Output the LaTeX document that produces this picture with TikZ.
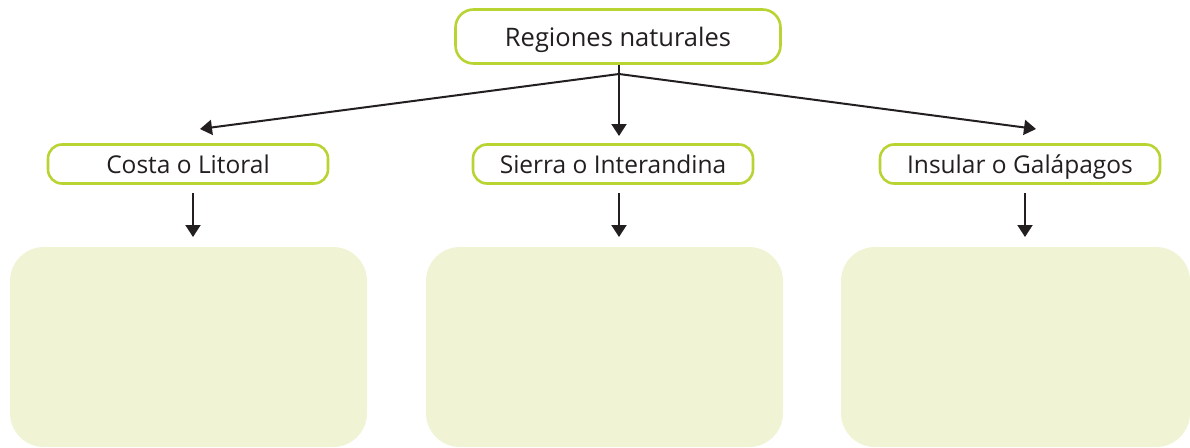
\documentclass[tikz,border=0pt]{standalone}
\usepackage{fontspec}
\setmainfont{Open Sans}
\usetikzlibrary{arrows.meta}
\definecolor{lime}{HTML}{B8D433}
\definecolor{pale}{HTML}{F0F4D4}
\definecolor{ink}{HTML}{231F20}
\begin{document}
\begin{tikzpicture}[x=1pt,y=-1pt,
  title/.style={draw=lime,line width=2.6pt,rounded corners=18pt,fill=white,text=ink,
    font=\fontsize{25.5}{30}\selectfont,inner sep=0pt,text height=19pt,text depth=0pt},
  region/.style={draw=lime,line width=2.6pt,rounded corners=14pt,fill=white,text=ink,
    font=\fontsize{24.5}{29}\selectfont,inner sep=0pt,minimum width=280pt,minimum height=39pt,
    text height=18pt,text depth=0pt},
  panel/.style={fill=pale,rounded corners=34pt},
  conn/.style={ink,line width=2pt},
  arr/.style={conn,-{Triangle[length=12pt,width=15pt]}}]
\useasboundingbox (0,0) rectangle (1190,447);
\node[title,minimum width=325pt,minimum height=54pt] (top) at (618,36.5) {Regiones naturales};
\node[region] (costa) at (188,164) {Costa o Litoral};
\node[region] (sierra) at (613,164) {Sierra o Interandina};
\node[region] (insular) at (1020,164) {Insular o Galápagos};
\fill[panel] (10,247) rectangle (367,447);
\fill[panel] (426,247) rectangle (783,447);
\fill[panel] (841,247) rectangle (1190,447);
\coordinate (br) at (619,74);
\coordinate (tl) at (200,129);
\coordinate (tm) at (619,136);
\coordinate (tr) at (1036,129);
\draw[conn] (top.south -| br) -- (br);
\draw[arr] (br) -- (tl);
\draw[arr] (br) -- (tm);
\draw[arr] (br) -- (tr);
\coordinate (d1) at (193,237);
\coordinate (d2) at (619,237);
\coordinate (d3) at (1025,237);
\draw[arr] (193,193) -- (d1);
\draw[arr] (619,193) -- (d2);
\draw[arr] (1025,193) -- (d3);
\end{tikzpicture}
\end{document}
